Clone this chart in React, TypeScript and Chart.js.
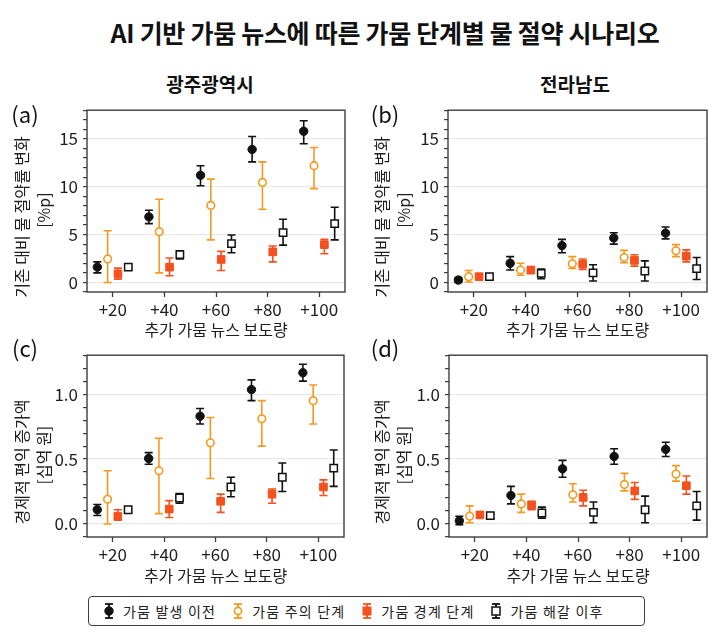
import React, { useEffect, useRef } from 'react';
import { Chart, registerables } from 'chart.js';

Chart.register(...registerables);

const FONT = '"Noto Sans CJK KR", "Noto Sans", sans-serif';

// ---------- data ----------
const newsLevels = [20, 40, 60, 80, 100];
const seriesNames = ['가뭄 발생 이전', '가뭄 주의 단계', '가뭄 경계 단계', '가뭄 해갈 이후'];
const chartTitle = 'AI 기반 가뭄 뉴스에 따른 가뭄 단계별 물 절약 시나리오';
const regionNames = ['광주광역시', '전라남도'];
const xTitle = '추가 가뭄 뉴스 보도량';
const waterTitle = ['기존 대비 물 절약률 변화', '[%p]'];
const econTitle = ['경제적 편익 증가액', '[십억 원]'];

// (a) 광주광역시 – water saving rate change [%p]
const gjWaterBeforeMean = [1.6, 6.85, 11.2, 13.9, 15.8];
const gjWaterBeforeLo = [1.0, 6.15, 10.1, 12.6, 14.5];
const gjWaterBeforeHi = [2.15, 7.55, 12.2, 15.25, 16.9];
const gjWaterCautionMean = [2.45, 5.3, 8.05, 10.45, 12.2];
const gjWaterCautionLo = [0.0, 1.0, 4.45, 7.65, 9.8];
const gjWaterCautionHi = [5.4, 8.7, 10.8, 12.6, 14.1];
const gjWaterWarningMean = [0.9, 1.6, 2.4, 3.2, 3.95];
const gjWaterWarningLo = [0.35, 0.7, 1.25, 2.15, 3.0];
const gjWaterWarningHi = [1.5, 2.55, 3.25, 3.8, 4.5];
const gjWaterAfterMean = [1.6, 2.9, 4.05, 5.2, 6.15];
const gjWaterAfterLo = [1.4, 2.45, 3.1, 3.9, 4.45];
const gjWaterAfterHi = [1.85, 3.3, 4.95, 6.6, 7.85];

// (b) 전라남도 – water saving rate change [%p]
const jnWaterBeforeMean = [0.25, 2.0, 3.85, 4.65, 5.15];
const jnWaterBeforeLo = [0.0, 1.3, 3.1, 4.0, 4.55];
const jnWaterBeforeHi = [0.5, 2.7, 4.5, 5.2, 5.8];
const jnWaterCautionMean = [0.6, 1.3, 1.95, 2.6, 3.3];
const jnWaterCautionLo = [0.05, 0.75, 1.45, 2.05, 2.7];
const jnWaterCautionHi = [1.25, 2.0, 2.7, 3.35, 3.95];
const jnWaterWarningMean = [0.6, 1.3, 1.9, 2.3, 2.75];
const jnWaterWarningLo = [0.4, 0.95, 1.35, 1.7, 2.15];
const jnWaterWarningHi = [0.8, 1.6, 2.45, 2.9, 3.4];
const jnWaterAfterMean = [0.6, 0.95, 1.0, 1.2, 1.45];
const jnWaterAfterLo = [0.35, 0.4, 0.15, 0.15, 0.3];
const jnWaterAfterHi = [0.85, 1.4, 1.85, 2.25, 2.6];

// (c) 광주광역시 – economic benefit increase [십억 원]
const gjEconBeforeMean = [0.11, 0.505, 0.83, 1.035, 1.165];
const gjEconBeforeLo = [0.065, 0.46, 0.77, 0.95, 1.1];
const gjEconBeforeHi = [0.15, 0.55, 0.89, 1.11, 1.23];
const gjEconCautionMean = [0.19, 0.41, 0.625, 0.81, 0.95];
const gjEconCautionLo = [0.0, 0.08, 0.35, 0.6, 0.77];
const gjEconCautionHi = [0.41, 0.66, 0.82, 0.95, 1.07];
const gjEconWarningMean = [0.06, 0.115, 0.175, 0.23, 0.285];
const gjEconWarningLo = [0.03, 0.05, 0.09, 0.16, 0.22];
const gjEconWarningHi = [0.11, 0.18, 0.23, 0.27, 0.34];
const gjEconAfterMean = [0.11, 0.2, 0.285, 0.36, 0.43];
const gjEconAfterLo = [0.09, 0.16, 0.21, 0.25, 0.29];
const gjEconAfterHi = [0.125, 0.235, 0.36, 0.47, 0.57];

// (d) 전라남도 – economic benefit increase [십억 원]
const jnEconBeforeMean = [0.025, 0.22, 0.425, 0.52, 0.575];
const jnEconBeforeLo = [-0.005, 0.155, 0.36, 0.46, 0.52];
const jnEconBeforeHi = [0.06, 0.29, 0.49, 0.58, 0.63];
const jnEconCautionMean = [0.06, 0.155, 0.225, 0.305, 0.385];
const jnEconCautionLo = [0.01, 0.09, 0.17, 0.255, 0.33];
const jnEconCautionHi = [0.14, 0.23, 0.31, 0.39, 0.45];
const jnEconWarningMean = [0.07, 0.145, 0.205, 0.255, 0.295];
const jnEconWarningLo = [0.05, 0.11, 0.14, 0.19, 0.23];
const jnEconWarningHi = [0.09, 0.175, 0.26, 0.32, 0.37];
const jnEconAfterMean = [0.065, 0.085, 0.09, 0.11, 0.14];
const jnEconAfterLo = [0.045, 0.045, 0.01, 0.01, 0.03];
const jnEconAfterHi = [0.08, 0.13, 0.17, 0.215, 0.25];

// ---------- styles ----------
const BLACK = '#111111';
const ORANGE = '#F39A1E';
const RED = '#F4511E';
const AXIS = '#3c3c3c';
const TEXT = '#1e1e1e';

type Series = { mean: number[]; lo: number[]; hi: number[] };

const markerStyles = [
  { pointStyle: 'circle', radius: 4.2, bg: BLACK, border: BLACK, bw: 1 },
  { pointStyle: 'circle', radius: 3.8, bg: '#ffffff', border: ORANGE, bw: 1.6 },
  { pointStyle: 'rect', radius: 5.4, bg: RED, border: RED, bw: 1 },
  { pointStyle: 'rect', radius: 5.2, bg: '#ffffff', border: BLACK, bw: 1.5 },
];
const dodge = [-6, -2, 2, 6];

type PanelDef = {
  label: string;
  series: Series[];
  yMin: number;
  yMax: number;
  yStep: number;
  majorEvery: number;
  decimals: number;
  yTitle: string[];
  left: number;
  top: number;
  width: number;
  height: number;
  padTop: number;
  padRight: number;
  yWidth: number;
  xHeight: number;
};

const mk = (mean: number[], lo: number[], hi: number[]): Series => ({ mean, lo, hi });

const panels: PanelDef[] = [
  {
    label: '(a)',
    series: [
      mk(gjWaterBeforeMean, gjWaterBeforeLo, gjWaterBeforeHi),
      mk(gjWaterCautionMean, gjWaterCautionLo, gjWaterCautionHi),
      mk(gjWaterWarningMean, gjWaterWarningLo, gjWaterWarningHi),
      mk(gjWaterAfterMean, gjWaterAfterLo, gjWaterAfterHi),
    ],
    yMin: -1, yMax: 18, yStep: 1, majorEvery: 5, decimals: 0, yTitle: waterTitle,
    left: 0, top: 95, width: 360, height: 245, padTop: 13, padRight: 15, yWidth: 87, xHeight: 48,
  },
  {
    label: '(b)',
    series: [
      mk(jnWaterBeforeMean, jnWaterBeforeLo, jnWaterBeforeHi),
      mk(jnWaterCautionMean, jnWaterCautionLo, jnWaterCautionHi),
      mk(jnWaterWarningMean, jnWaterWarningLo, jnWaterWarningHi),
      mk(jnWaterAfterMean, jnWaterAfterLo, jnWaterAfterHi),
    ],
    yMin: -1, yMax: 18, yStep: 1, majorEvery: 5, decimals: 0, yTitle: waterTitle,
    left: 360, top: 95, width: 360, height: 245, padTop: 13, padRight: 13, yWidth: 88, xHeight: 48,
  },
  {
    label: '(c)',
    series: [
      mk(gjEconBeforeMean, gjEconBeforeLo, gjEconBeforeHi),
      mk(gjEconCautionMean, gjEconCautionLo, gjEconCautionHi),
      mk(gjEconWarningMean, gjEconWarningLo, gjEconWarningHi),
      mk(gjEconAfterMean, gjEconAfterLo, gjEconAfterHi),
    ],
    yMin: -0.1, yMax: 1.3, yStep: 0.1, majorEvery: 0.5, decimals: 1, yTitle: econTitle,
    left: 0, top: 340, width: 360, height: 246, padTop: 13, padRight: 16, yWidth: 87, xHeight: 49,
  },
  {
    label: '(d)',
    series: [
      mk(jnEconBeforeMean, jnEconBeforeLo, jnEconBeforeHi),
      mk(jnEconCautionMean, jnEconCautionLo, jnEconCautionHi),
      mk(jnEconWarningMean, jnEconWarningLo, jnEconWarningHi),
      mk(jnEconAfterMean, jnEconAfterLo, jnEconAfterHi),
    ],
    yMin: -0.1, yMax: 1.3, yStep: 0.1, majorEvery: 0.5, decimals: 1, yTitle: econTitle,
    left: 360, top: 340, width: 360, height: 246, padTop: 13, padRight: 13, yWidth: 89, xHeight: 49,
  },
];

const isMajor = (v: number, every: number) => {
  const r = Math.round(v * 1000) / 1000 / every;
  return Math.abs(r - Math.round(r)) < 1e-6;
};

const errorBarPlugin = {
  id: 'errorBars',
  beforeDatasetsDraw(chart: any) {
    const { ctx } = chart;
    const y = chart.scales.y;
    chart.data.datasets.forEach((ds: any, i: number) => {
      const meta = chart.getDatasetMeta(i);
      ctx.save();
      ctx.strokeStyle = ds.borderColor;
      ctx.lineWidth = 1.6;
      meta.data.forEach((pt: any, j: number) => {
        const d = ds.data[j];
        const yt = y.getPixelForValue(d.hi);
        const yb = y.getPixelForValue(d.lo);
        const cap = 4;
        ctx.beginPath();
        ctx.moveTo(pt.x, yt);
        ctx.lineTo(pt.x, yb);
        ctx.moveTo(pt.x - cap, yt);
        ctx.lineTo(pt.x + cap, yt);
        ctx.moveTo(pt.x - cap, yb);
        ctx.lineTo(pt.x + cap, yb);
        ctx.stroke();
      });
      ctx.restore();
    });
  },
};

const framePlugin = {
  id: 'frame',
  afterDraw(chart: any) {
    const { ctx, chartArea: a } = chart;
    ctx.save();
    ctx.strokeStyle = AXIS;
    ctx.lineWidth = 1.4;
    ctx.strokeRect(a.left, a.top, a.right - a.left, a.bottom - a.top);
    ctx.restore();
  },
};

function makeYTitlePlugin(lines: string[]) {
  return {
    id: 'yTitleLines',
    afterDraw(chart: any) {
      const { ctx, chartArea: a } = chart;
      const cy = (a.top + a.bottom) / 2;
      ctx.save();
      ctx.fillStyle = TEXT;
      ctx.font = `16px ${FONT}`;
      ctx.textAlign = 'center';
      ctx.textBaseline = 'middle';
      const xs = [22, 44];
      const dy = [16, 9];
      lines.forEach((t, k) => {
        ctx.save();
        ctx.translate(xs[k], cy + dy[k]);
        ctx.rotate(-Math.PI / 2);
        ctx.fillText(t, 0, 0);
        ctx.restore();
      });
      ctx.restore();
    },
  };
}

function Panel({ p }: { p: PanelDef }) {
  const ref = useRef<HTMLCanvasElement>(null);
  useEffect(() => {
    if (!ref.current) return;
    const datasets = p.series.map((s, i) => {
      const m = markerStyles[i];
      return {
        label: seriesNames[i],
        data: newsLevels.map((x, j) => ({ x: x + dodge[i], y: s.mean[j], lo: s.lo[j], hi: s.hi[j] })),
        pointStyle: m.pointStyle,
        pointRadius: m.radius,
        pointHoverRadius: m.radius,
        backgroundColor: m.bg,
        borderColor: m.border,
        borderWidth: m.bw,
        showLine: false,
      };
    });
    const chart = new Chart(ref.current, {
      type: 'scatter',
      data: { datasets: datasets as any },
      options: {
        animation: false,
        responsive: false,
        devicePixelRatio: 1,
        layout: { padding: { top: p.padTop, right: p.padRight, left: 0, bottom: 0 } },
        plugins: { legend: { display: false }, tooltip: { enabled: false } },
        scales: {
          x: {
            type: 'linear',
            min: 10,
            max: 110,
            afterBuildTicks: (scale: any) => {
              scale.ticks = newsLevels.map((v) => ({ value: v }));
            },
            afterFit: (scale: any) => {
              scale.height = p.xHeight;
            },
            ticks: {
              callback: (v: any) => '+' + v,
              color: TEXT,
              font: { family: FONT, size: 17 },
              padding: 2,
              maxRotation: 0,
              autoSkip: false,
            },
            grid: { drawOnChartArea: false, drawTicks: true, tickLength: 5, tickColor: AXIS, tickWidth: 1.3 },
            border: { display: false },
            title: {
              display: true,
              text: xTitle,
              color: TEXT,
              font: { family: FONT, size: 16 },
              padding: { top: 0, bottom: 0 },
            },
          },
          y: {
            type: 'linear',
            min: p.yMin,
            max: p.yMax,
            afterFit: (scale: any) => {
              scale.width = p.yWidth;
            },
            ticks: {
              stepSize: p.yStep,
              autoSkip: false,
              color: TEXT,
              font: { family: FONT, size: 17 },
              padding: 5,
              callback: (v: any) => (isMajor(v, p.majorEvery) ? Number(v).toFixed(p.decimals) : ''),
            },
            grid: {
              color: (c: any) => (c.tick && isMajor(c.tick.value, p.majorEvery) ? '#e9e9e9' : 'rgba(0,0,0,0)'),
              lineWidth: 1.2,
              drawTicks: true,
              tickLength: 4,
              tickColor: AXIS,
              tickWidth: 1.2,
            },
            border: { display: false },
          },
        },
      } as any,
      plugins: [errorBarPlugin, framePlugin, makeYTitlePlugin(p.yTitle)],
    });
    return () => chart.destroy();
  }, [p]);
  return (
    <canvas
      ref={ref}
      width={p.width}
      height={p.height}
      style={{ position: 'absolute', left: p.left, top: p.top, width: p.width, height: p.height }}
    />
  );
}

function LegendIcon({ i }: { i: number }) {
  const m = markerStyles[i];
  const stroke = i === 1 ? ORANGE : i === 2 ? RED : BLACK;
  return (
    <svg width={12} height={18} viewBox="0 0 12 18" style={{ display: 'block' }}>
      <line x1={6} y1={2} x2={6} y2={16} stroke={stroke} strokeWidth={1.8} />
      <line x1={2} y1={2} x2={10} y2={2} stroke={stroke} strokeWidth={1.8} />
      <line x1={2} y1={16} x2={10} y2={16} stroke={stroke} strokeWidth={1.8} />
      {m.pointStyle === 'circle' ? (
        <circle cx={6} cy={9} r={i === 0 ? 4.2 : 3.6} fill={m.bg} stroke={m.border} strokeWidth={m.bw} />
      ) : (
        <rect x={2} y={5} width={8} height={8} fill={m.bg} stroke={m.border} strokeWidth={m.bw} />
      )}
    </svg>
  );
}

const centered = (x: number, y: number): React.CSSProperties => ({
  position: 'absolute',
  left: x,
  top: y,
  transform: 'translate(-50%, -50%)',
  whiteSpace: 'nowrap',
  lineHeight: 1.2,
  fontFamily: FONT,
  color: '#111',
});

export default function App() {
  return (
    <div style={{ position: 'absolute', left: 0, top: 0, width: 720, height: 636, background: '#fff', overflow: 'hidden', fontFamily: FONT }}>
      <div style={{ ...centered(385, 32), fontSize: 25, fontWeight: 700, letterSpacing: -0.3 }}>{chartTitle}</div>
      <div style={{ ...centered(210, 84), fontSize: 19, fontWeight: 700 }}>{regionNames[0]}</div>
      <div style={{ ...centered(575, 84), fontSize: 19, fontWeight: 700 }}>{regionNames[1]}</div>
      {panels.map((p) => (
        <Panel key={p.label} p={p} />
      ))}
      {panels.map((p) => (
        <div key={p.label + 'l'} style={{ ...centered(p.left + 25, p.top + (p.top < 300 ? 18 : 7)), fontSize: 22, fontWeight: 400 }}>
          {p.label}
        </div>
      ))}
      <div
        style={{
          position: 'absolute',
          left: 88,
          top: 596,
          width: 557,
          height: 30,
          boxSizing: 'border-box',
          border: `1.3px solid ${AXIS}`,
          borderRadius: 4,
          display: 'flex',
          alignItems: 'center',
          paddingLeft: 14,
          gap: 16,
        }}
      >
        {seriesNames.map((n, i) => (
          <div key={n} style={{ display: 'flex', alignItems: 'center', gap: 8 }}>
            <LegendIcon i={i} />
            <span style={{ fontSize: 14, letterSpacing: 1.2, color: '#222', lineHeight: 1 }}>{n}</span>
          </div>
        ))}
      </div>
    </div>
  );
}
